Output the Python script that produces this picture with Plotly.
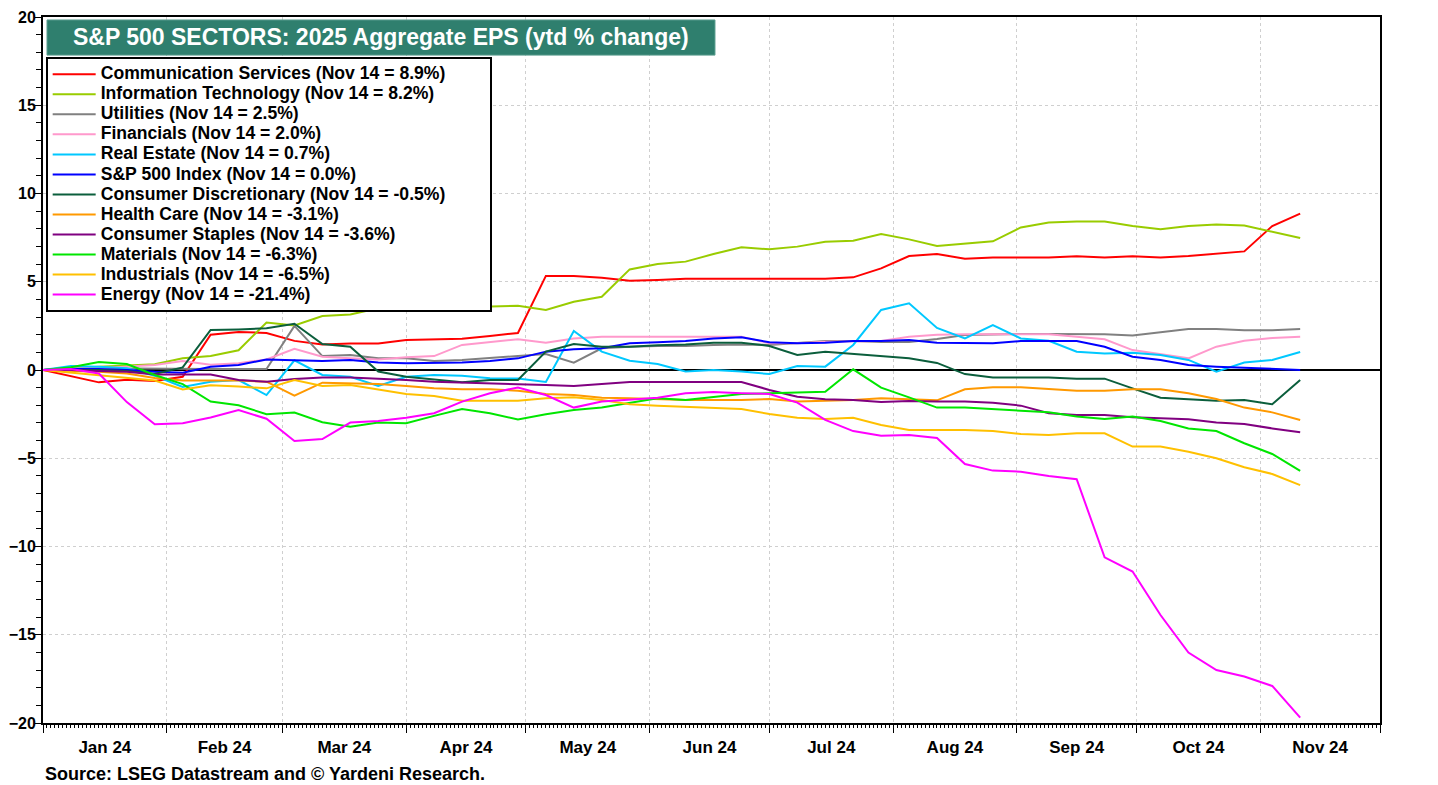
import pandas as pd
import plotly.graph_objects as go

# ---- data (weekly, ytd % change) ----
dates = pd.date_range("2024-01-01", periods=46, freq="7D")

comm_services = [0, -0.35, -0.7, -0.55, -0.62, -0.38, 2.0, 2.15, 2.1, 1.65, 1.45, 1.5, 1.5, 1.7, 1.73, 1.77, 1.93, 2.1,
                 5.33, 5.33, 5.23, 5.06, 5.1, 5.17, 5.17, 5.17, 5.17, 5.17, 5.17, 5.25, 5.76, 6.46, 6.57,
                 6.31, 6.38, 6.38, 6.38, 6.44, 6.38, 6.44, 6.38, 6.46, 6.57, 6.72, 8.16, 8.86]
info_tech = [0, 0.1, 0.19, 0.25, 0.33, 0.66, 0.79, 1.12, 2.69, 2.52, 3.06, 3.15, 3.5, 3.55, 3.52, 3.55, 3.6, 3.64,
             3.4, 3.87, 4.15, 5.7, 6.0, 6.14, 6.57, 6.95, 6.84, 6.99, 7.27, 7.33, 7.7, 7.4, 7.03,
             7.17, 7.29, 8.08, 8.35, 8.42, 8.42, 8.16, 7.97, 8.16, 8.25, 8.18, 7.84, 7.48]
utilities = [0, 0.1, 0.1, 0.08, 0.05, 0.05, 0.05, 0.05, 0.05, 2.5, 0.79, 0.85, 0.66, 0.66, 0.51, 0.57, 0.66, 0.79,
             0.9, 0.42, 1.23, 1.32, 1.36, 1.36, 1.42, 1.45, 1.42, 1.51, 1.64, 1.64, 1.59, 1.59, 1.76,
             1.98, 2.02, 2.04, 2.04, 2.04, 2.02, 1.95, 2.12, 2.32, 2.32, 2.25, 2.25, 2.32]
financials = [0, 0.1, 0.1, 0.2, 0.28, 0.51, 0.3, 0.38, 0.6, 1.2, 0.75, 0.66, 0.6, 0.72, 0.79, 1.42, 1.6, 1.74,
              1.55, 1.79, 1.89, 1.89, 1.89, 1.89, 1.89, 1.89, 1.51, 1.51, 1.6, 1.64, 1.64, 1.89, 2.0,
              2.02, 2.02, 2.02, 2.02, 1.89, 1.74, 1.13, 0.9, 0.66, 1.32, 1.66, 1.81, 1.89]
real_estate = [0, 0.22, 0.19, 0.1, -0.33, -0.96, -0.66, -0.57, -1.42, 0.55, -0.28, -0.38, -0.9, -0.38, -0.28, -0.33, -0.47, -0.48,
               -0.68, 2.21, 1.04, 0.53, 0.34, -0.09, 0, -0.09, -0.23, 0.23, 0.19, 1.42, 3.4, 3.78, 2.38,
               1.79, 2.55, 1.79, 1.66, 1.04, 0.94, 0.98, 0.85, 0.57, -0.09, 0.42, 0.57, 1.02]
sp500 = [0, 0.05, 0.05, 0.0, -0.1, -0.15, 0.19, 0.28, 0.6, 0.57, 0.51, 0.57, 0.42, 0.38, 0.42, 0.42, 0.51, 0.66,
         1.04, 1.17, 1.23, 1.51, 1.57, 1.64, 1.79, 1.85, 1.57, 1.51, 1.55, 1.64, 1.64, 1.7, 1.55,
         1.51, 1.51, 1.64, 1.64, 1.64, 1.32, 0.75, 0.57, 0.28, 0.19, 0.13, 0.1, 0.0]
cons_disc = [0, 0.0, 0.0, -0.05, -0.23, 0.15, 2.27, 2.3, 2.36, 2.62, 1.47, 1.32, -0.09, -0.38, -0.53, -0.7, -0.57, -0.57,
             1.04, 1.47, 1.32, 1.32, 1.4, 1.45, 1.55, 1.55, 1.36, 0.85, 1.04, 0.9, 0.79, 0.66, 0.4,
             -0.23, -0.42, -0.42, -0.42, -0.49, -0.49, -1.04, -1.57, -1.66, -1.74, -1.7, -1.94, -0.57]
health_care = [0, -0.05, -0.1, -0.2, -0.45, -0.6, -0.6, -0.6, -0.66, -1.45, -0.72, -0.75, -0.79, -0.9, -1.04, -1.09, -1.09, -1.17,
               -1.36, -1.42, -1.57, -1.6, -1.66, -1.7, -1.7, -1.7, -1.64, -1.79, -1.74, -1.7, -1.6, -1.66, -1.72,
               -1.09, -0.98, -0.98, -1.09, -1.17, -1.17, -1.09, -1.09, -1.32, -1.64, -2.13, -2.4, -2.83]
cons_staples = [0, 0.0, -0.05, -0.1, -0.25, -0.25, -0.25, -0.57, -0.66, -0.51, -0.43, -0.43, -0.49, -0.57, -0.66, -0.72, -0.79, -0.81,
                -0.85, -0.9, -0.79, -0.68, -0.68, -0.68, -0.68, -0.68, -1.13, -1.51, -1.66, -1.7, -1.81, -1.76, -1.79,
                -1.79, -1.85, -2.02, -2.45, -2.55, -2.55, -2.68, -2.74, -2.79, -2.98, -3.06, -3.31, -3.53]
materials = [0, 0.15, 0.45, 0.34, -0.28, -0.8, -1.79, -2.0, -2.5, -2.41, -2.96, -3.21, -2.98, -3.02, -2.6, -2.21, -2.45, -2.8,
             -2.51, -2.27, -2.13, -1.85, -1.6, -1.7, -1.55, -1.36, -1.32, -1.27, -1.23, 0.04, -1.0, -1.55, -2.13,
             -2.13, -2.21, -2.3, -2.4, -2.64, -2.78, -2.64, -2.89, -3.31, -3.46, -4.15, -4.76, -5.72]
industrials = [0, -0.15, -0.28, -0.45, -0.6, -1.1, -0.87, -0.94, -1.04, -0.57, -0.9, -0.85, -1.09, -1.36, -1.47, -1.74, -1.74, -1.74,
               -1.6, -1.55, -1.7, -1.94, -2.02, -2.08, -2.13, -2.21, -2.49, -2.7, -2.78, -2.7, -3.12, -3.4, -3.4,
               -3.4, -3.46, -3.63, -3.68, -3.59, -3.59, -4.34, -4.34, -4.63, -5.0, -5.51, -5.89, -6.52]
energy = [0, 0.05, -0.2, -1.82, -3.07, -3.02, -2.69, -2.27, -2.76, -4.02, -3.91, -2.98, -2.89, -2.7, -2.45, -1.79, -1.32, -0.99,
          -1.42, -2.13, -1.79, -1.7, -1.57, -1.32, -1.25, -1.32, -1.36, -1.85, -2.83, -3.46, -3.72, -3.68, -3.85,
          -5.33, -5.7, -5.76, -6.0, -6.19, -10.61, -11.42, -13.88, -16.01, -17.0, -17.37, -17.9, -19.7]

names = ["Communication Services (Nov 14 = 8.9%)", "Information Technology (Nov 14 = 8.2%)",
         "Utilities (Nov 14 = 2.5%)", "Financials (Nov 14 = 2.0%)", "Real Estate (Nov 14 = 0.7%)",
         "S&P 500 Index (Nov 14 = 0.0%)", "Consumer Discretionary (Nov 14 = -0.5%)",
         "Health Care (Nov 14 = -3.1%)", "Consumer Staples (Nov 14 = -3.6%)", "Materials (Nov 14 = -6.3%)",
         "Industrials (Nov 14 = -6.5%)", "Energy (Nov 14 = -21.4%)"]
series = [comm_services, info_tech, utilities, financials, real_estate, sp500, cons_disc,
          health_care, cons_staples, materials, industrials, energy]
colors = ["#ff0000", "#99cc00", "#808080", "#ff99cc", "#00c8ff", "#0000ff", "#0b5e3c",
          "#ff9900", "#800080", "#00e600", "#ffc000", "#ff00ff"]

y_ticks = [-20, -15, -10, -5, 0, 5, 10, 15, 20]

FONT = "Arial, 'Liberation Sans', sans-serif"

fig = go.Figure()
for i, (n, s, c) in enumerate(zip(names, series, colors)):
    pad = "&nbsp;" * 8 if i == 0 else ""
    fig.add_trace(go.Scatter(x=dates, y=s, mode="lines",
                             name=f"<span style='font-size:17.6px'>{n}{pad}</span>",
                             line=dict(color=c, width=2)))

axis_common = dict(showline=True, linecolor="black", linewidth=2, ticks="outside",
                   tickcolor="black", automargin=False)

fig.update_layout(
    width=1438, height=785,
    margin=dict(l=43, r=58, t=17, b=62),
    paper_bgcolor="white", plot_bgcolor="white",
    font=dict(family=FONT, color="black"),
    showlegend=True,
    legend=dict(x=0.002, y=0.943, xanchor="left", yanchor="top",
                bgcolor="white", bordercolor="black", borderwidth=2,
                font=dict(family=FONT, size=13.1, color="black", weight="bold"),
                tracegroupgap=0, itemwidth=43),
    xaxis=dict(type="date", range=["2024-01-01", "2024-12-01"], dtick="M1", tick0="2024-01-01",
               tickformat="%b %y", ticklabelmode="period", mirror=True,
               showgrid=True, gridcolor="#cfcfcf", griddash="dot", gridwidth=1,
               ticklen=8, tickwidth=1,
               minor=dict(dtick=86400000, ticklen=3, tickcolor="black", ticks="outside", showgrid=False),
               tickfont=dict(family=FONT, size=17, color="black", weight="bold"),
               **axis_common),
    yaxis=dict(range=[-20, 20], tickvals=y_ticks, mirror=True,
               showgrid=True, gridcolor="#cfcfcf", griddash="dot", gridwidth=1,
               zeroline=True, zerolinecolor="black", zerolinewidth=2,
               ticklen=6, tickwidth=1, ticklabelstandoff=-4,
               minor=dict(dtick=1, ticklen=5, tickcolor="black", ticks="outside", showgrid=False),
               tickfont=dict(family=FONT, size=16, color="black", weight="bold"),
               **axis_common),
    yaxis2=dict(range=[-20, 20], tickvals=y_ticks, overlaying="y", side="right", anchor="x",
                showgrid=False, zeroline=False, ticklen=6, tickwidth=1, ticklabelstandoff=1,
                minor=dict(dtick=1, ticklen=5, tickcolor="black", ticks="outside"),
                tickfont=dict(family=FONT, size=16, color="black", weight="bold"),
                **axis_common),
)

# title box
fig.add_shape(type="rect", xref="paper", yref="paper", x0=0.003, x1=0.5026, y0=0.946, y1=0.9958,
              fillcolor="#2f7f6e", line=dict(color="#5a9d8f", width=1), layer="above")
fig.add_annotation(xref="paper", yref="paper", x=0.2528, y=0.971, xanchor="center", yanchor="middle",
                   text="S&P 500 SECTORS: 2025 Aggregate EPS (ytd % change)", showarrow=False,
                   font=dict(family=FONT, size=23, color="white", weight="bold"))
# source
fig.add_annotation(xref="paper", yref="paper", x=0.0, y=-0.072, xanchor="left", yanchor="middle",
                   text="Source: LSEG Datastream and © Yardeni Research.", showarrow=False,
                   font=dict(family=FONT, size=18, color="black", weight="bold"))

fig.write_html("out.html", config={"displayModeBar": False},
               post_script="document.body.style.margin='0';")
